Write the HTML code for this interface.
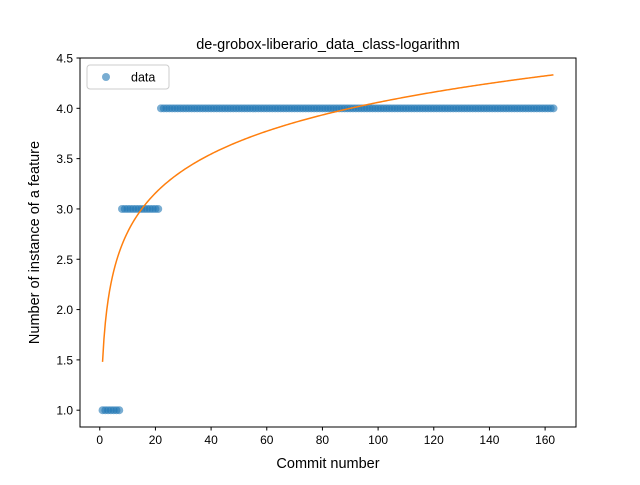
<!DOCTYPE html>
<html><head><meta charset="utf-8"><style>
body{margin:0;background:#fff}
svg{font-family:"Liberation Sans","DejaVu Sans",sans-serif}
</style></head><body>
<svg id="c" width="640" height="480" viewBox="0 0 640 480">
<rect width="640" height="480" fill="#fff"/>
<text x="328" y="49" text-anchor="middle" font-size="14.5">de-grobox-liberario_data_class-logarithm</text>
<g id="marks"></g>
<rect x="80" y="58" width="496" height="369" fill="none" stroke="#000" stroke-width="1"/>
<g id="ticks"></g>
<text x="328" y="468" text-anchor="middle" font-size="14.5">Commit number</text>
<text transform="translate(39,242.5) rotate(-90)" text-anchor="middle" font-size="14.5">Number of instance of a feature</text>
<g>
<rect x="87" y="65" width="82" height="24" rx="3" fill="#fff" fill-opacity="0.8" stroke="#ccc"/>
<circle cx="106" cy="77" r="4" fill="#1f77b4" fill-opacity="0.6"/>
<text x="131" y="81.5" font-size="12.5">data</text>
</g>
</svg>
<script>
const xs = [];
const ys = [];
const levelStarts = [1, 8, 22];
const levelValues = [1, 3, 4];
const lastX = 163;
const fitA = [1.48];
const fitB = [0.56];
const xTicks = [0,20,40,60,80,100,120,140,160];
const yTicks = [1.0,1.5,2.0,2.5,3.0,3.5,4.0,4.5];
for (let x = 1; x <= lastX; x++) {
  let v = levelValues[0];
  for (let k = 0; k < levelStarts.length; k++) if (x >= levelStarts[k]) v = levelValues[k];
  xs.push(x); ys.push(v);
}
const NS = "http://www.w3.org/2000/svg";
const X0=80, X1=576, Y0=427, Y1=58;
const xmin=-7.1, xmax=171.1, ymin=0.833, ymax=4.5;
const sx = v => X0 + (v - xmin) / (xmax - xmin) * (X1 - X0);
const sy = v => Y0 - (v - ymin) / (ymax - ymin) * (Y0 - Y1);
const marks = document.getElementById('marks');
xs.forEach((x, i) => {
  const c = document.createElementNS(NS, 'circle');
  c.setAttribute('cx', sx(x)); c.setAttribute('cy', sy(ys[i])); c.setAttribute('r', 4);
  c.setAttribute('fill', '#1f77b4'); c.setAttribute('fill-opacity', '0.6');
  
  
  marks.appendChild(c);
});
let d = '';
for (let x = 1; x <= lastX; x += 0.5) {
  d += (d ? 'L' : 'M') + sx(x).toFixed(2) + ',' + sy(fitA[0] + fitB[0] * Math.log(x)).toFixed(2);
}
const p = document.createElementNS(NS, 'path');
p.setAttribute('d', d); p.setAttribute('fill', 'none'); p.setAttribute('stroke', '#ff7f0e'); p.setAttribute('stroke-width', '1.5');


marks.appendChild(p);
const tg = document.getElementById('ticks');
xTicks.forEach(t => {
  const l = document.createElementNS(NS, 'line');
  l.setAttribute('x1', sx(t)); l.setAttribute('x2', sx(t)); l.setAttribute('y1', Y0); l.setAttribute('y2', Y0 + 3.5); l.setAttribute('stroke', '#000');
  
  
  tg.appendChild(l);
  const tx = document.createElementNS(NS, 'text');
  tx.setAttribute('x', sx(t)); tx.setAttribute('y', Y0 + 17); tx.setAttribute('text-anchor', 'middle'); tx.setAttribute('font-size', '12');
  tx.textContent = t;
  
  
  tg.appendChild(tx);
});
yTicks.forEach(t => {
  const l = document.createElementNS(NS, 'line');
  l.setAttribute('x1', X0 - 3.5); l.setAttribute('x2', X0); l.setAttribute('y1', sy(t)); l.setAttribute('y2', sy(t)); l.setAttribute('stroke', '#000');
  
  
  tg.appendChild(l);
  const tx = document.createElementNS(NS, 'text');
  tx.setAttribute('x', X0 - 7); tx.setAttribute('y', sy(t) + 4.5); tx.setAttribute('text-anchor', 'end'); tx.setAttribute('font-size', '12');
  tx.textContent = t.toFixed(1);
  
  
  tg.appendChild(tx);
});
</script>
</body></html>
